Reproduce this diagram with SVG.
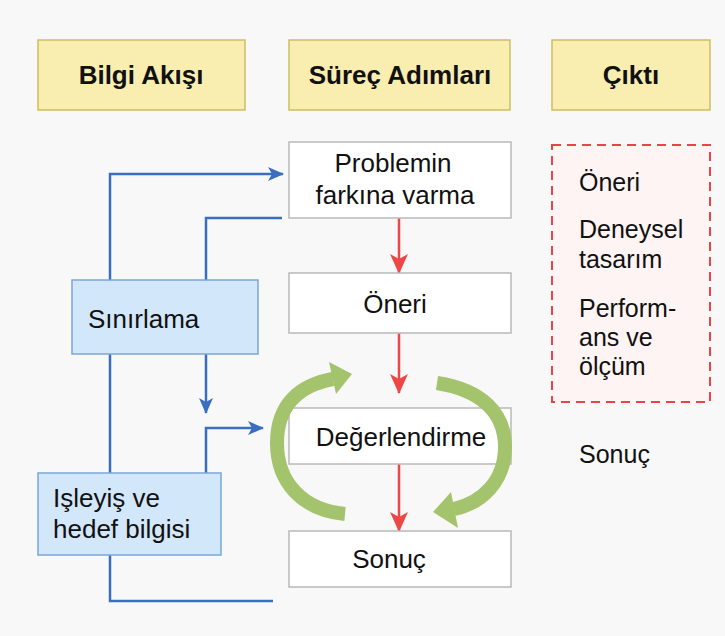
<svg xmlns="http://www.w3.org/2000/svg" width="725" height="636" viewBox="0 0 725 636">
<defs>
<marker id="ab" markerWidth="16" markerHeight="16" refX="15" refY="8" orient="auto" markerUnits="userSpaceOnUse" viewBox="0 0 16 16"><path d="M0,1 L16,8 L0,15 L4,8 Z" fill="#3a6fc0"/></marker>
<marker id="ar" markerWidth="20" markerHeight="20" refX="19" refY="10" orient="auto" markerUnits="userSpaceOnUse" viewBox="0 0 20 20"><path d="M0,1 L20,10 L0,19 L5,10 Z" fill="#ee4747"/></marker>
<style>
.t{font-family:"Liberation Sans",Arial,sans-serif;font-size:26px;fill:#111}
.h{font-weight:bold;text-anchor:middle}
.c{text-anchor:middle}
.o{font-size:25px}
.hdr{fill:#f9eeaf;stroke:#cdbd62;stroke-width:1.5}
.pb{fill:#fff;stroke:#b9b9b9;stroke-width:1.5}
.bb{fill:#d3e7fa;stroke:#7aa6d8;stroke-width:1.5}
.bl{fill:none;stroke:#3a6fc0;stroke-width:2.5}
.rl{fill:none;stroke:#ee4747;stroke-width:2.5}
.gl{fill:none;stroke:#a3c46c;stroke-width:14}
.ga{fill:#a3c46c}
</style>
</defs>
<rect width="725" height="636" fill="#f8f8f8"/>
<g id="h1"><rect class="hdr" x="38" y="40" width="207" height="70"/><text class="t h" x="141" y="84">Bilgi Akışı</text></g>
<g id="h2"><rect class="hdr" x="289" y="40" width="221" height="70"/><text class="t h" x="400" y="84">Süreç Adımları</text></g>
<g id="h3"><rect class="hdr" x="552" y="40" width="158" height="70"/><text class="t h" x="631" y="84">Çıktı</text></g>

<g id="connectors">
<path class="bl" d="M110,280 V174 H283" marker-end="url(#ab)"/>
<path class="bl" d="M206,280 V218 H282"/>
<path class="bl" d="M206,354 V413" marker-end="url(#ab)"/>
<path class="bl" d="M110,354 V473"/>
<path class="bl" d="M206,473 V428 H263" marker-end="url(#ab)"/>
<path class="bl" d="M110,555 V601 H273"/>
<path class="rl" d="M399,218 V273" marker-end="url(#ar)"/>
<path class="rl" d="M399,333 V393" marker-end="url(#ar)"/>
<path class="rl" d="M399,464 V531" marker-end="url(#ar)"/>
</g>

<g id="p1"><rect class="pb" x="289" y="142" width="222" height="76"/><text class="t c" x="393" y="172">Problemin</text><text class="t c" x="395" y="204">farkına varma</text></g>
<g id="p2"><rect class="pb" x="289" y="273" width="222" height="60"/><text class="t c" x="395" y="313">Öneri</text></g>
<g id="p3"><rect class="pb" x="289" y="408" width="222" height="56"/><text class="t c" x="401" y="446">Değerlendirme</text></g>
<g id="p4"><rect class="pb" x="289" y="531" width="222" height="56"/><text class="t c" x="389" y="568">Sonuç</text></g>

<g id="cycle">
<path class="gl" d="M345,514 C302,510 277,482 277,443 C277,404 300,385 333,379"/>
<polygon class="ga" points="352,374 329,362 336,394"/>
<path class="gl" d="M437,383 C482,390 505,413 505,447 C505,481 482,503 454,509"/>
<polygon class="ga" points="433,512 451,492 458,528"/>
</g>

<g id="s1"><rect class="bb" x="72" y="280" width="186" height="74"/><text class="t" x="88" y="328">Sınırlama</text></g>
<g id="s2"><rect class="bb" x="38" y="473" width="183" height="82"/><text class="t" x="53" y="507">Işleyiş ve</text><text class="t" x="53" y="538">hedef bilgisi</text></g>

<g id="out"><rect x="552" y="145" width="158" height="257" fill="#fdf4f3" stroke="#e8454a" stroke-width="2" stroke-dasharray="9,6"/>
<text class="t o" x="579" y="191">Öneri</text>
<text class="t o" x="579" y="238">Deneysel</text>
<text class="t o" x="579" y="268">tasarım</text>
<text class="t o" x="579" y="317">Perform-</text>
<text class="t o" x="579" y="346">ans ve</text>
<text class="t o" x="579" y="375">ölçüm</text>
</g>
<g id="o2"><text class="t o" x="579" y="463">Sonuç</text></g>
</svg>
